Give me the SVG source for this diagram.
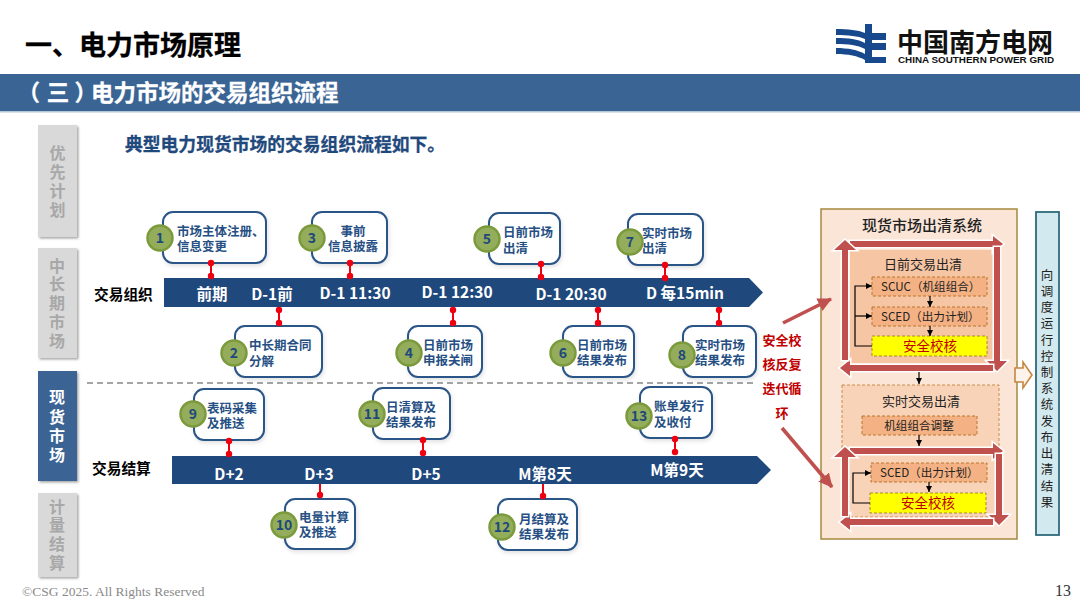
<svg xmlns="http://www.w3.org/2000/svg" width="1080" height="608" viewBox="0 0 1080 608">
<style>
text{font-family:"Noto Sans CJK SC","Noto Sans",sans-serif}
.b{font-weight:700}
.tab{stroke:none;filter:url(#sh)}
.gray{fill:#d9d9d9}.blue{fill:#3a6494}
.tt{font-size:16px;font-weight:700;text-anchor:middle}
.tg{fill:#a8a8a8}.tw{fill:#fff}
.bar{fill:#1f497d}
.bl{font-size:15.5px;font-weight:700;fill:#fff;text-anchor:middle}
.side{font-size:14.7px;font-weight:700;fill:#000}
.box{fill:#fff;stroke:#2c5487;stroke-width:2;filter:url(#sh2)}
.c{fill:#93ad5b;stroke:#7b9a3c;stroke-width:2.5}
.n{font-size:14px;font-weight:700;fill:#1f497d;text-anchor:middle}
.t{font-size:12.5px;font-weight:700;fill:#264f84}
.m{text-anchor:middle}
.stem{stroke:#ee0011;stroke-width:2;fill:none;marker-start:url(#dot);marker-end:url(#dot)}
.stem2{stroke:#ee0011;stroke-width:2;fill:none;marker-end:url(#dot)}
.blk{stroke:#000;stroke-width:1.2;fill:none;marker-end:url(#ah)}
.da{fill:#f4b183;stroke:#b8762f;stroke-width:1;stroke-dasharray:3 2}
.ye{fill:#ffff00;stroke:#a68a2a;stroke-width:1;stroke-dasharray:3 2}
.rt{font-size:13.5px;fill:#c00000;text-anchor:middle}
.sy{font-size:11.6px;fill:#222}
.hd{font-size:13px;fill:#222;text-anchor:middle}
.ba{fill:#c0504d;stroke:#fff;stroke-width:3;paint-order:stroke}
.ra{stroke:#c0504d;stroke-width:3.6;fill:none;marker-end:url(#rh)}
.lr{font-size:13px;font-weight:700;fill:#c00000;text-anchor:middle}
.vt{font-size:12.5px;fill:#222;text-anchor:middle}
</style>
<defs>
<filter id="sh" x="-20%" y="-20%" width="140%" height="140%"><feDropShadow dx="1.5" dy="1.5" stdDeviation="1" flood-color="#000" flood-opacity=".35"/></filter>
<filter id="sh2" x="-20%" y="-20%" width="140%" height="140%"><feDropShadow dx="1" dy="2" stdDeviation="2" flood-color="#000" flood-opacity=".12"/></filter>
<marker id="dot" markerUnits="userSpaceOnUse" markerWidth="8" markerHeight="8" refX="4" refY="4"><circle cx="4" cy="4" r="3.2" fill="#ee0011"/></marker>
<marker id="ah" markerUnits="userSpaceOnUse" markerWidth="7" markerHeight="7" refX="6" refY="3.5" orient="auto"><path d="M0 .5L6 3.5L0 6.5z" fill="#000"/></marker>
<marker id="rh" markerUnits="userSpaceOnUse" markerWidth="16" markerHeight="16" refX="13" refY="7" orient="auto"><path d="M0 0L14 7L0 14z" fill="#c0504d"/></marker>
</defs>
<rect width="1080" height="608" fill="#fff"/>

<g id="header">
<text x="25" y="55" class="b" font-size="27" fill="#000" stroke="#000" stroke-width=".3">一、电力市场原理</text>
<rect x="0" y="74" width="1080" height="37" fill="#3a6494"/>
<rect x="0" y="111" width="1080" height="1.5" fill="#b4c6d8"/>
<text x="17.5 46.75 74.5 91" y="101" class="b" font-size="22.500" fill="#fff" stroke="#fff" stroke-width=".3">（三）电力市场的交易组织流程</text>
<text x="125" y="151" class="b" font-size="17.8" fill="#1f497d" stroke="#1f497d" stroke-width=".3">典型电力现货市场的交易组织流程如下。</text>
</g>

<g id="logo">
<path fill="#17498c" d="M865 24h7v9h14v7h-14v3h14v7h-14v7h14v6h-21zM836 29C848 29 858 30 865 33V39C858 36 848 35 836 35zM836 38C848 38 858 39 865 43V49C858 45 848 44 836 44zM836 48C848 48 858 50 865 54V60C858 56 848 54 836 54z"/>
<text x="897" y="52" class="b" font-size="26" fill="#111">中国南方电网</text>
<text x="898" y="63" font-size="9" font-weight="700" style="font-family:'Liberation Sans',sans-serif" fill="#111" textLength="156" lengthAdjust="spacingAndGlyphs">CHINA SOUTHERN POWER GRID</text>
</g>

<g id="tab-1"><rect class="tab gray" x="38" y="125" width="39" height="112"/><text class="tt tg"><tspan x="57.5" y="159">优</tspan><tspan x="57.5" y="178">先</tspan><tspan x="57.5" y="197">计</tspan><tspan x="57.5" y="216">划</tspan></text></g>
<g id="tab-2"><rect class="tab gray" x="38" y="248" width="39" height="110"/><text class="tt tg"><tspan x="57" y="272">中</tspan><tspan x="57" y="290">长</tspan><tspan x="57" y="309">期</tspan><tspan x="57" y="328">市</tspan><tspan x="57" y="347">场</tspan></text></g>
<g id="tab-3"><rect class="tab blue" x="38" y="371" width="39" height="110"/><text class="tt tw"><tspan x="57" y="403">现</tspan><tspan x="57" y="423">货</tspan><tspan x="57" y="442">市</tspan><tspan x="57" y="461">场</tspan></text></g>
<g id="tab-4"><rect class="tab gray" x="38" y="493" width="39" height="84"/><text class="tt tg"><tspan x="57" y="513">计</tspan><tspan x="57" y="531">量</tspan><tspan x="57" y="550">结</tspan><tspan x="57" y="569">算</tspan></text></g>

<path d="M87 383H756" stroke="#888" stroke-width="1.5" stroke-dasharray="6 4" fill="none"/>

<g id="timeline-1">
<text class="side" x="94" y="300">交易组织</text>
<path class="bar" d="M164 278H749L763 292.500L749 307H164z"/>
<text class="bl" x="212" y="300">前期</text>
<text class="bl" x="272" y="300">D-1前</text>
<text class="bl" x="355" y="299">D-1 11:30</text>
<text class="bl" x="457" y="298">D-1 12:30</text>
<text class="bl" x="571" y="300">D-1 20:30</text>
<text class="bl" x="685" y="299">D 每15min</text>
</g>
<g id="timeline-2">
<text class="side" x="92" y="474">交易结算</text>
<path class="bar" d="M172 456H757L771 470L757 484H172z"/>
<text class="bl" x="229" y="480">D+2</text>
<text class="bl" x="319" y="480">D+3</text>
<text class="bl" x="426" y="480">D+5</text>
<text class="bl" x="545" y="480">M第8天</text>
<text class="bl" x="677" y="476">M第9天</text>
</g>

<g id="node-1"><rect class="box" x="163" y="212" width="103" height="51" rx="10"/><circle class="c" cx="160" cy="238" r="12.500"/><text class="n" x="160" y="243">1</text><text class="t"><tspan x="177" y="236">市场主体注册、</tspan><tspan x="177" y="251">信息变更</tspan></text></g>
<g id="node-2"><rect class="box" x="235" y="326" width="87" height="51" rx="10"/><circle class="c" cx="234" cy="353" r="12.500"/><text class="n" x="234" y="358">2</text><text class="t"><tspan x="249" y="350">中长期合同</tspan><tspan x="249" y="366">分解</tspan></text></g>
<g id="node-3"><rect class="box" x="312" y="212" width="75" height="51" rx="10"/><circle class="c" cx="312" cy="238" r="12.500"/><text class="n" x="312" y="243">3</text><text class="t m"><tspan x="353" y="236">事前</tspan><tspan x="353" y="251">信息披露</tspan></text></g>
<g id="node-4"><rect class="box" x="408" y="326" width="74" height="51" rx="10"/><circle class="c" cx="409" cy="353" r="12.500"/><text class="n" x="409" y="358">4</text><text class="t"><tspan x="423" y="350">日前市场</tspan><tspan x="423" y="365">申报关闸</tspan></text></g>
<g id="node-5"><rect class="box" x="489" y="213" width="71" height="51" rx="10"/><circle class="c" cx="487" cy="239" r="12.500"/><text class="n" x="487" y="244">5</text><text class="t"><tspan x="503" y="237">日前市场</tspan><tspan x="503" y="253">出清</tspan></text></g>
<g id="node-6"><rect class="box" x="563" y="326" width="71" height="51" rx="10"/><circle class="c" cx="563" cy="353" r="12.500"/><text class="n" x="563" y="358">6</text><text class="t"><tspan x="577" y="350">日前市场</tspan><tspan x="577" y="365">结果发布</tspan></text></g>
<g id="node-7"><rect class="box" x="628" y="214" width="75" height="51" rx="10"/><circle class="c" cx="630" cy="242" r="12.500"/><text class="n" x="630" y="247">7</text><text class="t"><tspan x="642" y="238">实时市场</tspan><tspan x="642" y="253">出清</tspan></text></g>
<g id="node-8"><rect class="box" x="683" y="326" width="73" height="51" rx="10"/><circle class="c" cx="682" cy="355" r="12.500"/><text class="n" x="682" y="360">8</text><text class="t"><tspan x="695" y="350">实时市场</tspan><tspan x="695" y="365">结果发布</tspan></text></g>
<g id="node-9"><rect class="box" x="194" y="389" width="70" height="51" rx="10"/><circle class="c" cx="193" cy="414" r="12.500"/><text class="n" x="193" y="419">9</text><text class="t"><tspan x="207" y="413">表码采集</tspan><tspan x="207" y="428">及推送</tspan></text></g>
<g id="node-10"><rect class="box" x="285" y="499" width="70" height="50" rx="10"/><circle class="c" cx="284" cy="525" r="12.500"/><text class="n" x="284" y="530">10</text><text class="t"><tspan x="299" y="522">电量计算</tspan><tspan x="299" y="537">及推送</tspan></text></g>
<g id="node-11"><rect class="box" x="373" y="388" width="77" height="51" rx="10"/><circle class="c" cx="372" cy="414" r="12.500"/><text class="n" x="372" y="419">11</text><text class="t"><tspan x="386" y="412">日清算及</tspan><tspan x="386" y="427">结果发布</tspan></text></g>
<g id="node-12"><rect class="box" x="498" y="499" width="79" height="51" rx="10"/><circle class="c" cx="502" cy="527" r="12.500"/><text class="n" x="502" y="532">12</text><text class="t"><tspan x="519" y="524">月结算及</tspan><tspan x="519" y="539">结果发布</tspan></text></g>
<g id="node-13"><rect class="box" x="640" y="387" width="72" height="51" rx="10"/><circle class="c" cx="639" cy="416" r="12.500"/><text class="n" x="639" y="421">13</text><text class="t"><tspan x="654" y="411">账单发行</tspan><tspan x="654" y="427">及收付</tspan></text></g>

<g id="loop-label"><text class="lr" x="782" y="345">安全校</text><text class="lr" x="782" y="369">核反复</text><text class="lr" x="782" y="393">迭代循</text><text class="lr" x="782" y="418">环</text></g>

<g id="clearing-system">
<rect x="821" y="209" width="196" height="330" fill="#fbe5d6" stroke="#a6893f" stroke-width="1.5"/>
<text x="922" y="231" font-size="15" fill="#222" text-anchor="middle" style="font-weight:500">现货市场出清系统</text>

<g id="day-ahead">
<rect x="850" y="250" width="147" height="113" fill="#f6c5a4"/>
<text class="hd" x="923" y="269">日前交易出清</text>
<rect class="da" x="872" y="277" width="115" height="19"/><text class="sy" x="881" y="291">SCUC（机组组合）</text>
<rect class="da" x="872" y="307" width="115" height="19"/><text class="sy" x="881" y="321">SCED（出力计划）</text>
<rect class="ye" x="872" y="336" width="115" height="20"/><text class="rt" x="930" y="351">安全校核</text>
<path class="blk" d="M930 296V307"/><path class="blk" d="M930 326V336"/>
<path class="blk" d="M872 346H855V286H872"/><path class="blk" d="M855 316H872"/>
<polygon class="ba" points="850,241 993,241 993,236 1003,244 993,252 993,247 850,247"/>
<polygon class="ba" points="994,247 1000,247 1000,361 1007,361 997,371 987,361 994,361"/>
<polygon class="ba" points="993,365 993,371 850,371 850,376 840,368 850,360 850,365"/>
<polygon class="ba" points="842,360 848,360 848,250 856,250 845,240 834,250 842,250"/>
</g>

<path class="blk" d="M919 372V384"/>

<g id="real-time">
<rect x="842" y="385" width="157" height="132" fill="#f9d3b8" stroke="#c98a4a" stroke-width="1" stroke-dasharray="3 2"/>
<text class="hd" x="921" y="406">实时交易出清</text>
<rect class="da" x="862" y="416" width="115" height="19"/><text class="sy" x="919" y="430" text-anchor="middle">机组组合调整</text>
<path class="blk" d="M919 435V446"/>
<rect class="da" x="871" y="463" width="116" height="19"/><text class="sy" x="880" y="477">SCED（出力计划）</text>
<rect class="ye" x="870" y="493" width="116" height="20"/><text class="rt" x="928" y="508">安全校核</text>
<path class="blk" d="M929 482V492"/>
<path class="blk" d="M870 503H853V473H871"/>
<polygon class="ba" points="850,448 993,448 993,443 1003,451 993,459 993,454 850,454"/>
<polygon class="ba" points="996,454 1002,454 1002,515 1009,515 999,525 989,515 996,515"/>
<polygon class="ba" points="993,519 993,525 850,525 850,530 840,522 850,514 850,519"/>
<polygon class="ba" points="842,516 848,516 848,457 856,457 845,447 834,457 842,457"/>
</g>
</g>

<path id="out-arrow" d="M1015 368H1023V362L1032 375L1023 388V382H1015z" fill="#fdf3ea" stroke="#c5873f" stroke-width="1.6"/>

<g id="dispatch">
<rect x="1036" y="212" width="23" height="323" fill="#d2e9ef" stroke="#2e6a7c" stroke-width="1.8"/>
<text class="vt"><tspan x="1047" y="280">向</tspan><tspan x="1047" y="296">调</tspan><tspan x="1047" y="312">度</tspan><tspan x="1047" y="328">运</tspan><tspan x="1047" y="345">行</tspan><tspan x="1047" y="361">控</tspan><tspan x="1047" y="377">制</tspan><tspan x="1047" y="393">系</tspan><tspan x="1047" y="409">统</tspan><tspan x="1047" y="426">发</tspan><tspan x="1047" y="442">布</tspan><tspan x="1047" y="458">出</tspan><tspan x="1047" y="474">清</tspan><tspan x="1047" y="491">结</tspan><tspan x="1047" y="507">果</tspan></text>
</g>

<g id="connectors">
<path class="stem" d="M211 263V276"/><path class="stem" d="M350 263V276"/><path class="stem" d="M541 264V277"/><path class="stem" d="M665 265V278"/>
<path class="stem" d="M279 310V323"/><path class="stem" d="M453 310V323"/><path class="stem" d="M598 310V323"/><path class="stem" d="M719 310V323"/>
<path class="stem" d="M229 441V454"/><path class="stem" d="M423 440V453"/><path class="stem" d="M675 439V452"/>
<path class="stem2" d="M320 484V495"/><path class="stem2" d="M543 484V496"/>
<path class="ra" d="M783 323L831 299"/>
<path class="ra" d="M782 428L832 487"/>
</g>

<g id="footer">
<text x="22" y="596" font-size="13.5" fill="#8a8a8a" style="font-family:'Liberation Serif',serif">©CSG 2025. All Rights Reserved</text>
<text x="1055" y="596" font-size="16" fill="#333" style="font-family:'Liberation Serif',serif">13</text>
</g>
</svg>
